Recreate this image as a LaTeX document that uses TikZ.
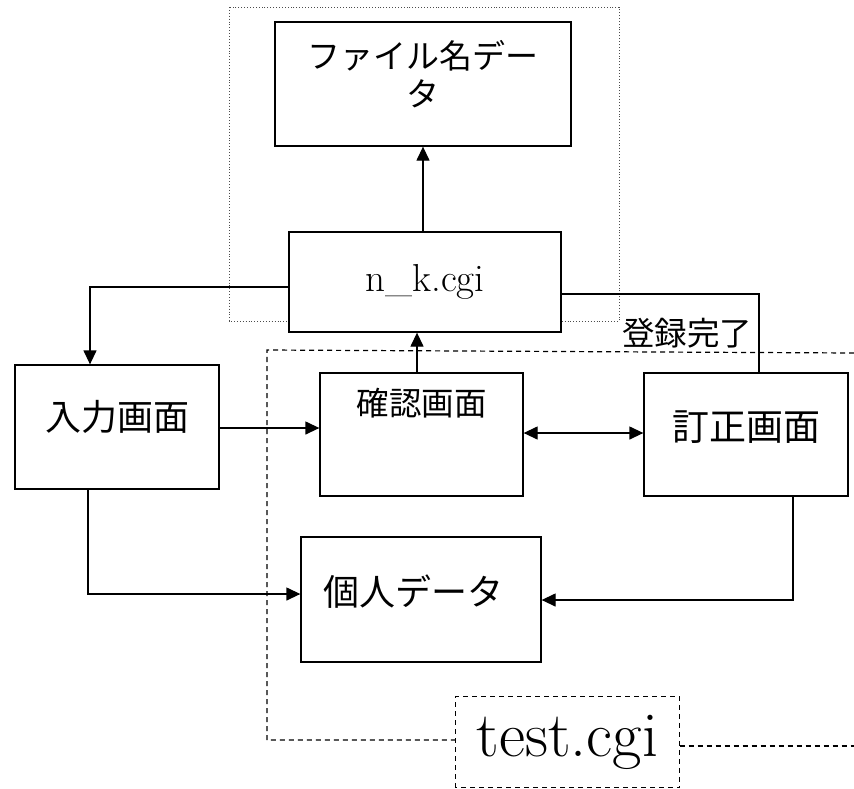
\documentclass[tikz,border=0pt]{standalone}
\usepackage{fontspec}
\newfontfamily\jp{Noto Sans CJK JP}
\usetikzlibrary{arrows.meta}
\begin{document}
\begin{tikzpicture}[x=1pt,y=-1pt,
  box/.style={draw, line width=1.3pt, fill=white, inner sep=0pt},
  conn/.style={line width=1.3pt},
  arr/.style={conn, -{Triangle[length=14pt,width=13pt]}},
  darr/.style={conn, {Triangle[length=14pt,width=13pt]}-{Triangle[length=14pt,width=13pt]}},
  dashline/.style={line width=1.2pt, dash pattern=on 5pt off 4pt},
  dotline/.style={line width=0.9pt, dotted, black!70},
  jlab/.style={inner sep=0pt, font=\jp\fontsize{36}{38}\selectfont}
]
\useasboundingbox (0,0) rectangle (854,788);
\fill[white] (0,0) rectangle (854,788);

% dotted group box
\draw[dotline] (229,7) rectangle (619,321);

% dashed region
\draw[dashline] (854,353) -- (267,350) -- (267,740) -- (456,740);
\coordinate (dend) at (854,746);

% nodes
\node[box, minimum width=296pt, minimum height=124pt,
  label={[jlab, align=center, font=\jp\fontsize{33}{38}\selectfont, yshift=10pt]center:ファイル名デー\\タ}]
  (file) at (423,84) {};
\node[box, minimum width=272pt, minimum height=100pt,
  font=\fontsize{39}{44}\selectfont] (nk) at (425,282) {n\_k.cgi};
\node[box, minimum width=204pt, minimum height=124pt,
  label={[jlab, yshift=10pt]center:入力画面}] (input) at (117,427) {};
\node[box, minimum width=203pt, minimum height=123pt,
  label={[jlab, font=\jp\fontsize{32.5}{38}\selectfont, yshift=31.5pt]center:確認画面}] (confirm) at (421.5,434.5) {};
\node[box, minimum width=204pt, minimum height=123pt,
  label={[jlab, font=\jp\fontsize{37}{38}\selectfont, yshift=7pt]center:訂正画面}] (correct) at (746,434.5) {};
\node[box, minimum width=240pt, minimum height=125pt,
  label={[jlab, xshift=-8pt, yshift=7.5pt]center:個人データ}] (personal) at (421,599.5) {};
\node[box, draw=none, minimum width=223pt, minimum height=90pt,
  font=\fontsize{64}{64}\selectfont] (test) at (567.5,742) {test.cgi};
\draw[dashline] (test.south west) rectangle (test.north east);
\draw[dashline] (test.east |- dend) -- (dend);

\node[inner sep=0pt, font=\jp\fontsize{32.5}{36}\selectfont] (done) at (687,333) {登録完了};

% connectors
\draw[arr] (nk.north -| file.south) -- (file.south);
\draw[arr] (nk.west |- 0,287) -- (90,287) -- (input.north -| 90,0);
\draw[arr] (confirm.north -| 417,0) -- (nk.south -| 417,0);
\draw[conn] (nk.east |- 0,294) -- (759,294) -- (correct.north -| 759,0);
\draw[arr] (input.east |- 0,428) -- (confirm.west |- 0,428);
\draw[darr] (confirm.east |- 0,433) -- (correct.west |- 0,433);
\draw[arr] (input.south -| 88,0) -- (88,594) -- (personal.west |- 0,594);
\draw[arr] (correct.south -| 793,0) -- (793,600) -- (personal.east |- 0,600);
\end{tikzpicture}
\end{document}
